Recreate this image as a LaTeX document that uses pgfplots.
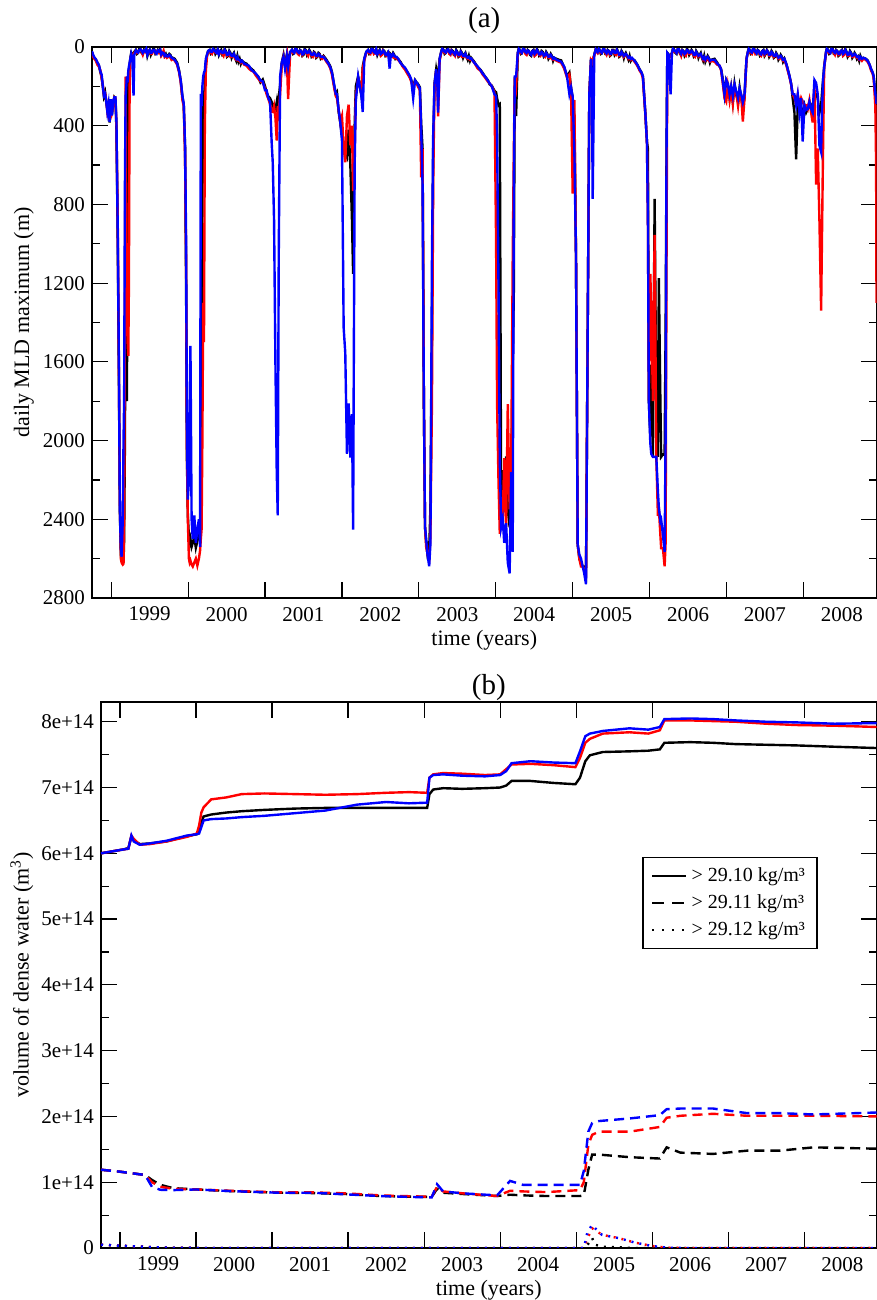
\documentclass[border=0pt]{standalone}
\usepackage{fontspec}
\setmainfont{Liberation Serif}
\usepackage{pgfplots}
\usepackage{pgfplotstable}
\pgfplotsset{compat=1.18}

% daily MLD maximum (m): black, red, blue
\pgfplotstableread{
t k r b
1998.750 25 28 22
1998.765 45 50 40
1998.780 55 60 52
1998.800 64 70 62
1998.820 80 90 78
1998.840 95 100 92
1998.860 130 120 125
1998.875 150 160 140
1998.890 200 190 195
1998.905 250 240 247
1998.920 230 235 238
1998.935 280 270 275
1998.950 320 330 330
1998.965 300 310 290
1998.980 384 370 380
1998.995 270 280 265
1999.010 340 330 348
1999.025 290 300 280
1999.040 256 256 256
1999.055 265 260 256
1999.068 420 400 380
1999.085 1000 900 950
1999.100 1700 1650 1610
1999.112 2350 2300 2342
1999.125 2580 2600 2550
1999.135 2610 2620 2590
1999.150 2620 2630 2400
1999.160 2615 2626 2000
1999.168 2500 2400 1793
1999.178 2000 1300 700
1999.187 1200 150 250
1999.196 600 1000 200
1999.204 1800 1100 150
1999.213 750 1500 180
1999.222 150 1570 120
1999.230 120 1200 100
1999.239 90 200 80
1999.248 60 80 60
1999.260 30 40 35
1999.275 40 45 60
1999.290 30 35 247
1999.300 25 30 40
1999.320 15 20 18
1999.335 35 30 25
1999.350 30 25 28
1999.365 8 20 15
1999.380 10 15 12
1999.395 30 25 20
1999.410 35 40 30
1999.425 15 20 18
1999.440 20 25 22
1999.455 5 15 10
1999.470 45 30 40
1999.485 25 20 22
1999.500 15 20 15
1999.515 40 35 30
1999.530 25 35 28
1999.545 10 20 15
1999.560 12 18 15
1999.575 35 30 30
1999.590 30 25 35
1999.605 15 20 18
1999.620 20 30 22
1999.635 8 25 15
1999.650 40 45 38
1999.665 30 35 28
1999.680 25 20 30
1999.695 45 50 45
1999.710 35 45 40
1999.725 50 55 48
1999.740 45 50 48
1999.755 35 45 40
1999.770 40 55 45
1999.785 60 65 55
1999.800 55 60 58
1999.826 60 70 65
1999.857 80 90 85
1999.883 120 130 125
1999.904 174 180 170
1999.926 256 270 250
1999.943 293 300 290
1999.960 512 550 500
1999.974 1244 1100 1000
1999.983 2068 2000 1900
1999.996 2380 2400 2300
2000.010 2489 2600 2200
2000.020 2520 2620 1800
2000.030 2500 2610 1519
2000.045 2540 2630 2400
2000.060 2520 2640 2500
2000.080 2490 2620 2380
2000.100 2545 2600 2520
2000.120 2510 2635 2450
2000.140 2480 2600 2400
2000.155 2450 2560 2540
2000.165 2300 2500 238
2000.175 1500 2450 300
2000.185 800 2000 200
2000.196 300 1300 150
2000.206 250 1500 130
2000.217 200 400 120
2000.230 80 120 60
2000.245 40 50 40
2000.260 20 25 20
2000.280 15 20 15
2000.295 35 30 25
2000.310 30 35 25
2000.325 5 15 10
2000.340 10 20 15
2000.355 35 30 25
2000.370 25 30 30
2000.385 10 20 15
2000.400 40 35 35
2000.415 25 30 20
2000.430 15 25 20
2000.445 40 35 30
2000.460 35 45 30
2000.475 10 20 15
2000.490 20 30 25
2000.505 50 45 40
2000.520 45 40 40
2000.535 20 30 25
2000.550 30 50 35
2000.565 55 50 45
2000.580 40 45 45
2000.595 30 40 35
2000.610 55 60 50
2000.625 70 65 60
2000.640 45 55 50
2000.655 75 70 65
2000.670 60 70 65
2000.685 85 80 75
2000.700 70 75 70
2000.730 80 90 85
2000.760 85 95 90
2000.790 100 110 95
2000.820 110 120 115
2000.850 120 125 125
2000.880 140 145 135
2000.910 150 160 150
2000.940 180 175 170
2000.970 165 180 175
2001.000 200 210 220
2001.020 230 240 220
2001.040 250 260 256
2001.065 260 290 280
2001.087 280 330 494
2001.100 300 330 586
2001.117 293 300 878
2001.135 320 360 1610
2001.152 280 476 2160
2001.165 330 300 2380
2001.178 260 330 1061
2001.196 190 240 150
2001.217 80 90 80
2001.240 40 50 50
2001.260 90 100 110
2001.283 40 50 45
2001.300 80 265 100
2001.326 25 30 25
2001.350 15 20 15
2001.365 35 30 25
2001.380 30 25 30
2001.395 5 15 10
2001.410 10 15 12
2001.425 30 35 25
2001.440 35 40 30
2001.455 15 20 18
2001.470 20 25 20
2001.485 45 40 38
2001.500 40 30 35
2001.515 10 20 15
2001.530 15 20 18
2001.545 40 35 30
2001.560 30 45 28
2001.575 15 25 20
2001.590 25 30 30
2001.605 50 45 40
2001.620 45 50 40
2001.635 25 30 30
2001.650 30 35 35
2001.665 55 50 45
2001.680 50 45 45
2001.695 30 40 35
2001.710 35 40 40
2001.725 60 55 50
2001.740 55 60 50
2001.760 45 50 50
2001.790 60 70 65
2001.826 82 90 85
2001.850 100 110 105
2001.870 128 140 130
2001.900 200 210 195
2001.920 240 250 238
2001.935 230 260 240
2001.957 330 320 320
2001.978 384 380 380
2002.000 450 350 476
2002.022 494 512 1427
2002.043 540 586 1555
2002.065 560 350 2068
2002.087 420 293 1811
2002.109 600 500 2086
2002.130 878 400 1866
2002.145 1153 732 2452
2002.155 700 500 1500
2002.165 400 512 600
2002.180 200 250 275
2002.210 150 160 150
2002.250 240 230 240
2002.270 100 110 330
2002.290 60 70 60
2002.316 25 30 25
2002.340 15 20 15
2002.355 35 30 25
2002.370 30 35 28
2002.385 5 15 10
2002.400 10 15 12
2002.415 30 35 25
2002.430 25 30 30
2002.445 10 15 12
2002.460 40 35 35
2002.475 25 30 25
2002.490 15 25 18
2002.505 40 45 35
2002.520 35 40 30
2002.535 15 20 18
2002.550 20 30 25
2002.565 45 40 38
2002.580 40 45 40
2002.600 25 30 28
2002.620 30 35 110
2002.635 50 45 40
2002.650 45 50 45
2002.665 30 40 35
2002.680 40 55 45
2002.695 60 55 50
2002.710 55 60 50
2002.730 60 65 60
2002.760 75 80 80
2002.790 95 100 95
2002.820 110 115 105
2002.857 132 140 130
2002.880 150 155 145
2002.900 168 175 165
2002.926 200 210 260
2002.950 168 175 170
2002.970 180 185 180
2002.987 187 200 190
2003.013 205 220 210
2003.030 388 662 425
2003.048 516 516 700
2003.065 1800 1800 1800
2003.080 2440 2440 2440
2003.095 2520 2540 2500
2003.108 2565 2565 2565
2003.120 2540 2590 2600
2003.134 2563 2602 2639
2003.150 2342 2490 2525
2003.170 1430 1800 1080
2003.186 516 700 450
2003.203 187 200 190
2003.225 113 120 113
2003.240 150 200 180
2003.250 140 352 333
2003.270 60 70 60
2003.290 25 30 25
2003.305 5 15 10
2003.320 15 20 15
2003.335 35 30 25
2003.350 30 25 28
2003.365 10 20 15
2003.380 10 15 12
2003.395 30 35 25
2003.410 35 40 32
2003.425 15 20 18
2003.440 20 30 25
2003.455 40 35 30
2003.470 40 45 38
2003.485 15 25 20
2003.500 25 30 28
2003.515 50 45 40
2003.530 45 40 40
2003.545 20 30 25
2003.560 30 50 35
2003.575 55 50 45
2003.590 40 45 45
2003.605 30 40 35
2003.620 50 55 50
2003.635 65 60 55
2003.650 45 60 50
2003.665 70 65 60
2003.680 55 60 58
2003.720 75 80 80
2003.766 104 110 100
2003.800 115 120 118
2003.830 132 140 135
2003.860 150 155 150
2003.896 168 175 170
2003.920 190 185 185
2003.948 196 200 200
2003.983 223 230 240
2004.004 230 990 250
2004.017 260 1815 450
2004.035 296 2200 1200
2004.052 290 2474 2100
2004.070 2419 2300 2440
2004.090 2150 2401 2400
2004.110 2350 2090 2520
2004.134 2080 2440 2420
2004.156 2350 1815 2620
2004.180 2440 2350 2675
2004.200 2260 2160 2160
2004.220 1620 1080 2566
2004.234 1260 540 720
2004.247 150 160 150
2004.264 351 200 150
2004.286 30 35 30
2004.300 5 15 10
2004.310 15 20 15
2004.325 35 30 25
2004.340 30 25 30
2004.355 8 15 10
2004.370 10 15 12
2004.385 30 35 25
2004.400 35 40 30
2004.415 15 20 18
2004.430 20 25 22
2004.445 40 35 35
2004.460 45 35 40
2004.475 20 25 22
2004.490 15 20 18
2004.505 40 45 35
2004.520 30 40 28
2004.535 10 20 15
2004.550 20 25 25
2004.565 45 40 38
2004.580 40 45 38
2004.595 20 30 25
2004.610 25 35 30
2004.625 50 45 45
2004.640 45 50 42
2004.655 25 35 30
2004.670 35 40 40
2004.685 60 55 50
2004.700 50 55 48
2004.715 35 45 40
2004.730 45 60 50
2004.745 70 65 60
2004.760 55 60 55
2004.790 60 70 65
2004.820 65 75 70
2004.850 68 80 75
2004.890 104 110 100
2004.926 150 155 150
2004.957 130 140 240
2004.978 205 210 205
2005.000 260 745 252
2005.022 360 270 540
2005.043 1065 1065 1065
2005.065 2529 2529 2529
2005.087 2602 2602 2580
2005.108 2620 2640 2600
2005.130 2640 2640 2640
2005.150 2640 2660 2675
2005.173 2675 2675 2730
2005.195 1432 1432 1432
2005.216 241 241 241
2005.238 60 70 60
2005.250 160 80 200
2005.260 70 60 772
2005.280 40 45 40
2005.300 10 15 12
2005.325 25 30 25
2005.340 5 15 10
2005.350 15 20 15
2005.365 35 30 25
2005.380 30 25 30
2005.395 10 15 12
2005.410 10 15 12
2005.425 35 30 25
2005.440 35 40 32
2005.455 15 20 18
2005.470 20 25 22
2005.485 45 40 35
2005.500 40 30 35
2005.515 15 20 18
2005.530 15 20 18
2005.545 40 35 30
2005.560 30 40 30
2005.575 10 20 15
2005.590 25 30 25
2005.605 50 45 40
2005.620 45 40 40
2005.635 20 30 25
2005.650 30 35 35
2005.665 55 50 45
2005.675 40 45 40
2005.690 30 40 35
2005.710 50 45 45
2005.725 65 60 55
2005.740 45 55 50
2005.755 70 65 60
2005.770 60 60 55
2005.805 68 75 70
2005.840 90 95 90
2005.870 113 120 115
2005.895 130 135 130
2005.913 150 160 150
2005.944 333 340 333
2005.965 480 480 480
2005.978 516 882 880
2005.990 1797 1797 1797
2006.009 1980 1153 2013
2006.022 1614 1340 2068
2006.043 2083 1800 2083
2006.065 772 955 2083
2006.087 1800 2083 2083
2006.108 2083 2383 2260
2006.120 1175 2340 2340
2006.140 1800 2480 2410
2006.150 2083 2547 2401
2006.173 2070 2547 2480
2006.195 2072 2639 2566
2006.208 1440 2520 1980
2006.220 516 1080 516
2006.230 30 40 30
2006.250 40 45 40
2006.273 45 50 241
2006.290 30 35 30
2006.305 5 15 10
2006.320 15 20 15
2006.335 30 25 22
2006.350 35 30 30
2006.365 10 15 12
2006.380 10 15 12
2006.395 35 30 25
2006.410 40 45 35
2006.425 15 20 18
2006.440 20 25 22
2006.455 45 40 35
2006.470 35 45 30
2006.485 10 20 15
2006.500 15 20 18
2006.515 40 35 30
2006.530 30 35 28
2006.545 15 25 20
2006.560 25 30 25
2006.575 50 45 40
2006.590 45 50 40
2006.605 20 30 25
2006.620 30 40 35
2006.635 55 50 45
2006.650 40 45 40
2006.665 30 40 35
2006.680 55 50 50
2006.695 70 65 60
2006.710 45 55 50
2006.725 75 70 65
2006.740 60 65 55
2006.755 45 55 50
2006.770 55 70 60
2006.785 80 75 70
2006.800 65 70 65
2006.844 60 75 65
2006.880 80 90 85
2006.910 100 95 95
2006.930 113 120 115
2006.950 160 180 170
2006.974 241 260 241
2006.996 168 278 168
2007.017 187 200 187
2007.040 260 270 240
2007.060 205 215 200
2007.082 278 290 250
2007.104 187 200 190
2007.125 240 230 223
2007.150 278 300 260
2007.170 205 230 210
2007.190 260 241 241
2007.212 300 379 280
2007.234 260 260 240
2007.247 150 160 150
2007.260 60 60 60
2007.277 25 30 25
2007.290 5 15 10
2007.300 15 20 15
2007.315 35 30 25
2007.330 30 35 28
2007.345 8 15 10
2007.360 10 15 12
2007.375 30 35 25
2007.390 35 30 32
2007.405 15 20 18
2007.420 20 25 22
2007.435 45 40 35
2007.450 40 45 38
2007.465 20 25 22
2007.480 15 25 18
2007.495 45 40 35
2007.510 35 30 30
2007.525 15 20 18
2007.540 25 30 25
2007.555 50 45 40
2007.570 40 45 40
2007.585 20 30 25
2007.600 30 35 32
2007.615 55 50 45
2007.630 50 45 45
2007.645 30 40 35
2007.660 40 50 45
2007.675 65 60 55
2007.690 55 60 50
2007.705 40 50 45
2007.720 50 55 55
2007.735 75 70 65
2007.753 60 65 60
2007.780 90 95 90
2007.796 113 120 113
2007.820 150 155 150
2007.840 187 190 187
2007.860 260 240 240
2007.883 333 260 241
2007.905 571 290 296
2007.926 296 241 241
2007.948 278 296 333
2007.970 315 260 260
2007.990 333 280 480
2008.013 296 296 296
2008.035 333 296 320
2008.056 315 315 315
2008.078 278 270 278
2008.100 296 333 315
2008.120 315 384 333
2008.143 241 187 168
2008.165 241 699 183
2008.186 260 516 241
2008.208 333 882 500
2008.230 300 1340 534
2008.240 241 1000 333
2008.255 168 516 168
2008.270 100 100 100
2008.294 25 30 25
2008.305 5 15 10
2008.320 15 20 15
2008.335 35 30 25
2008.350 30 25 30
2008.365 8 15 10
2008.380 10 15 12
2008.395 35 30 25
2008.410 35 40 30
2008.425 15 20 18
2008.440 20 25 22
2008.455 45 40 35
2008.470 40 35 35
2008.485 20 25 22
2008.500 15 20 18
2008.515 40 45 35
2008.530 30 40 28
2008.545 10 20 15
2008.560 25 30 25
2008.575 50 45 40
2008.590 40 45 38
2008.605 20 30 25
2008.620 30 35 32
2008.635 55 50 45
2008.650 45 50 42
2008.665 30 40 35
2008.680 40 45 40
2008.695 60 55 50
2008.710 50 55 48
2008.725 70 65 60
2008.740 45 60 50
2008.760 65 70 60
2008.780 55 60 55
2008.810 60 65 60
2008.835 68 75 70
2008.860 90 95 90
2008.880 113 120 113
2008.900 130 135 130
2008.913 150 160 150
2008.935 241 300 241
2008.945 260 600 260
2008.950 320 1300 290
}\mld

% volume of dense water (1e14 m^3), > 29.10
\pgfplotstableread{
t k r b
1998.75 6.00 6.00 6.00
1998.90 6.03 6.03 6.03
1999.05 6.06 6.06 6.06
1999.11 6.08 6.07 6.07
1999.15 6.25 6.27 6.27
1999.18 6.20 6.22 6.18
1999.26 6.14 6.13 6.13
1999.39 6.15 6.14 6.15
1999.61 6.18 6.18 6.19
1999.88 6.26 6.25 6.27
2000.01 6.29 6.30 6.29
2000.04 6.35 6.42 6.30
2000.07 6.47 6.62 6.40
2000.10 6.56 6.70 6.50
2000.20 6.59 6.82 6.52
2000.40 6.62 6.85 6.53
2000.60 6.64 6.90 6.55
2000.90 6.66 6.91 6.57
2001.30 6.68 6.90 6.61
2001.70 6.69 6.89 6.65
2002.12 6.69 6.90 6.74
2002.50 6.69 6.92 6.78
2002.80 6.69 6.93 6.76
2003.04 6.69 6.92 6.77
2003.07 6.90 7.15 7.15
2003.12 6.97 7.20 7.19
2003.25 6.99 7.22 7.20
2003.50 6.98 7.21 7.18
2003.80 6.99 7.19 7.17
2004.00 7.00 7.20 7.19
2004.08 7.03 7.28 7.25
2004.15 7.10 7.35 7.37
2004.40 7.10 7.36 7.40
2004.70 7.07 7.34 7.38
2004.99 7.05 7.31 7.37
2005.05 7.15 7.45 7.55
2005.12 7.40 7.68 7.78
2005.18 7.49 7.74 7.82
2005.35 7.54 7.82 7.86
2005.70 7.55 7.84 7.90
2005.95 7.56 7.82 7.88
2006.10 7.58 7.87 7.92
2006.16 7.68 8.02 8.04
2006.50 7.69 8.02 8.05
2006.80 7.68 8.01 8.04
2007.10 7.66 8.00 8.02
2007.50 7.65 7.97 8.00
2007.90 7.64 7.95 7.99
2008.40 7.62 7.94 7.97
2008.96 7.60 7.92 7.98
}\vten

% > 29.11
\pgfplotstableread{
t k r b
1998.75 1.19 1.19 1.19
1999.00 1.16 1.16 1.16
1999.33 1.11 1.11 1.11
1999.42 1.035 1.00 0.93
1999.53 0.96 0.93 0.885
1999.70 0.91 0.90 0.88
2000.00 0.89 0.89 0.89
2000.45 0.865 0.87 0.865
2001.10 0.84 0.845 0.84
2001.54 0.835 0.845 0.84
2001.98 0.82 0.83 0.815
2002.42 0.79 0.80 0.79
2002.86 0.78 0.785 0.775
2003.10 0.775 0.78 0.77
2003.17 0.90 0.93 0.97
2003.25 0.84 0.86 0.86
2003.52 0.82 0.83 0.83
2003.96 0.79 0.79 0.80
2004.13 0.81 0.87 1.02
2004.30 0.80 0.86 0.96
2004.61 0.79 0.85 0.96
2005.05 0.79 0.88 0.96
2005.10 0.80 1.00 1.17
2005.16 1.19 1.57 1.77
2005.21 1.42 1.72 1.90
2005.30 1.42 1.77 1.93
2005.71 1.38 1.77 1.97
2006.10 1.36 1.84 2.02
2006.19 1.53 1.98 2.11
2006.37 1.45 2.01 2.12
2006.80 1.43 2.04 2.12
2007.25 1.48 2.01 2.05
2007.68 1.48 2.01 2.05
2008.12 1.53 2.01 2.03
2008.96 1.51 2.00 2.06
}\veleven

% > 29.12
\pgfplotstableread{
t k r b
1998.75 0.05 0.05 0.05
1999.00 0.035 0.035 0.035
1999.30 0.02 0.02 0.02
1999.60 0.005 0.005 0.005
2000.00 0 0 0
2005.10 0 0 0
2005.15 0.05 0.15 0.25
2005.21 0.15 0.30 0.35
2005.25 0.05 0.27 0.30
2005.34 0.02 0.20 0.20
2005.56 0.01 0.15 0.15
2005.78 0 0.08 0.08
2006.00 0 0.03 0.03
2006.20 0 0.005 0.005
2006.40 0 0 0
2008.96 0 0 0
}\vtwelve

\begin{document}
\begin{tikzpicture}
\path[use as bounding box] (0,0) rectangle (438.5pt,650pt);
\pgfplotsset{
  common/.style={
    scale only axis,
    anchor=south west,
    xmin=1998.75, xmax=2008.95,
    xtick={1999,2000,2001,2002,2003,2004,2005,2006,2007,2008},
    xticklabels={1999,2000,2001,2002,2003,2004,2005,2006,2007,2008},
    tick align=inside,
    major tick length=8pt,
    minor tick length=4pt,
    axis line style={line width=0.6pt},
    tick style={line width=0.6pt, black},
    /pgf/number format/assume math mode=true,
    tick label style={font=\fontsize{10.5}{12}\selectfont},
    label style={font=\fontsize{11}{13}\selectfont},
    title style={font=\fontsize{14.5}{16}\selectfont, at={(axis description cs:0.5,1)}, anchor=center},
    xlabel={time (years)},
    xlabel style={at={(axis description cs:0.5,0)}, anchor=center, yshift=-21pt},
    minor y tick num=1,
  }
}
\begin{axis}[common,
  at={(46pt,351pt)}, width=392.25pt, height=275.5pt,
  xticklabel style={xshift=19.2pt, yshift=-1pt},
  y dir=reverse, ymin=0, ymax=2800,
  ytick={0,400,800,1200,1600,2000,2400,2800},
  yticklabels={0,400,800,1200,1600,2000,2400,2800},
  ylabel={daily MLD maximum (m)},
  ylabel style={at={(axis description cs:-0.087,0.5)}, anchor=center},
  title={(a)}, title style={yshift=7pt},
]
\addplot[black, line width=1.2pt] table[x=t, y=k] {\mld};
\addplot[red, line width=1.2pt] table[x=t, y=r] {\mld};
\addplot[blue, line width=1.2pt] table[x=t, y=b] {\mld};
\end{axis}

\begin{axis}[common,
  at={(50.5pt,26pt)}, width=387.75pt, height=273pt,
  xticklabel style={xshift=19pt, yshift=-1pt},
  ymin=0, ymax=8.3,
  ytick={0,1,2,3,4,5,6,7,8},
  yticklabels={0,1e+14,2e+14,3e+14,4e+14,5e+14,6e+14,7e+14,8e+14},
  ylabel={volume of dense water (m\textsuperscript{3})},
  ylabel style={at={(axis description cs:-0.102,0.5)}, anchor=center},
  title={(b)}, title style={yshift=1pt},
  legend style={at={(0.924,0.716)}, anchor=north east, draw=black, line width=0.6pt,
    font=\fontsize{10}{12}\selectfont, inner xsep=4pt, inner ysep=3pt, row sep=1pt},
  legend cell align=left,
]
\addlegendimage{black, line width=1.2pt}
\addlegendentry{> 29.10 kg/m³}
\addlegendimage{black, line width=1.2pt, dash pattern=on 6pt off 4pt}
\addlegendentry{> 29.11 kg/m³}
\addlegendimage{black, line width=1.2pt, dash pattern=on 1pt off 4pt}
\addlegendentry{> 29.12 kg/m³}
\addplot[black, line width=1.2pt, forget plot] table[x=t, y=k] {\vten};
\addplot[red, line width=1.2pt, forget plot] table[x=t, y=r] {\vten};
\addplot[blue, line width=1.2pt, forget plot] table[x=t, y=b] {\vten};
\addplot[black, line width=1.2pt, dash pattern=on 5pt off 3pt, forget plot] table[x=t, y=k] {\veleven};
\addplot[red, line width=1.2pt, dash pattern=on 5pt off 3pt, forget plot] table[x=t, y=r] {\veleven};
\addplot[blue, line width=1.2pt, dash pattern=on 5pt off 3pt, forget plot] table[x=t, y=b] {\veleven};
\addplot[black, line width=1.2pt, dash pattern=on 1pt off 3pt, forget plot] table[x=t, y=k] {\vtwelve};
\addplot[red, line width=1.2pt, dash pattern=on 1pt off 3pt, forget plot] table[x=t, y=r] {\vtwelve};
\addplot[blue, line width=1.2pt, dash pattern=on 1pt off 3pt, forget plot] table[x=t, y=b] {\vtwelve};
\end{axis}
\end{tikzpicture}
\end{document}
